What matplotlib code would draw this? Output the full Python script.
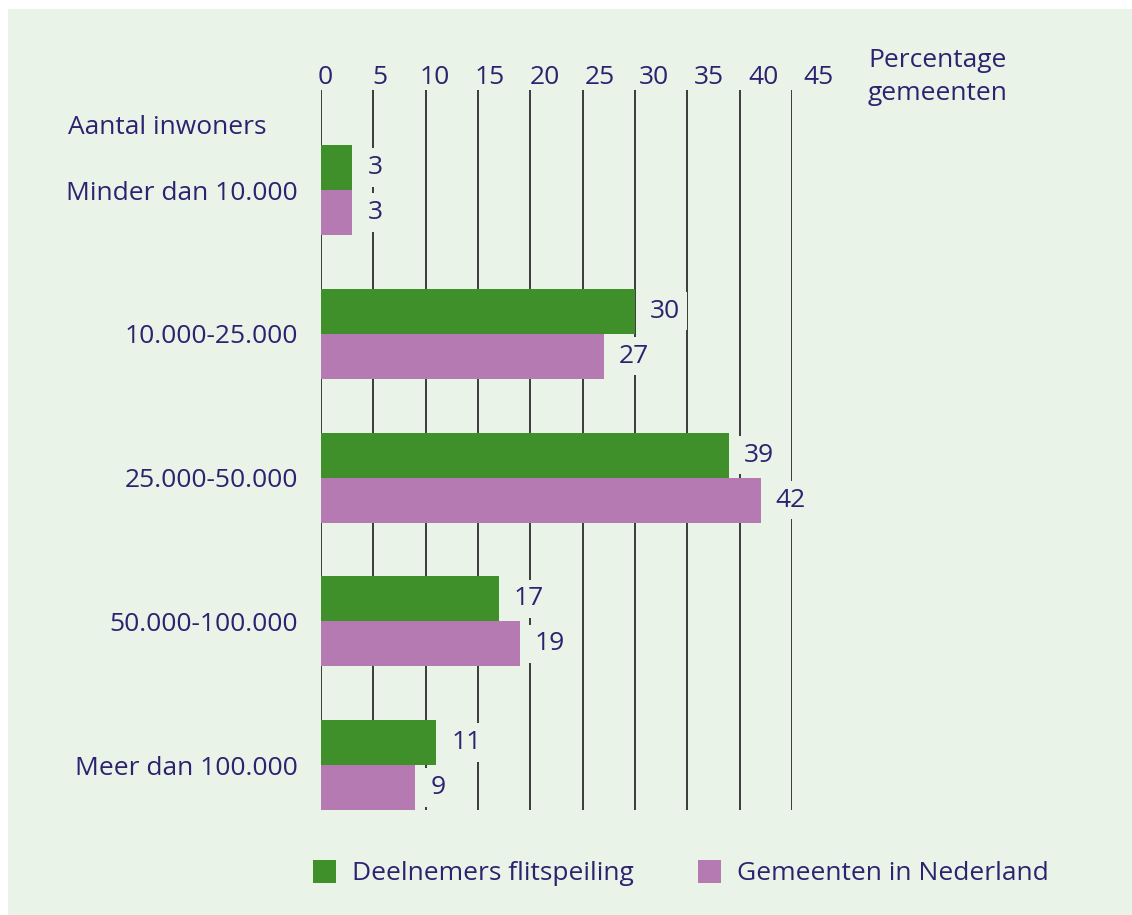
import matplotlib
matplotlib.use("Agg")
import matplotlib.pyplot as plt
from matplotlib.patches import Rectangle
import matplotlib.transforms as mtransforms
import numpy as np

categories = ["Minder dan 10.000", "10.000-25.000", "25.000-50.000", "50.000-100.000", "Meer dan 100.000"]
deelnemers = [3, 30, 39, 17, 11]
gemeenten = [3, 27, 42, 19, 9]
xticks = [0, 5, 10, 15, 20, 25, 30, 35, 40, 45]
series_names = ["Deelnemers flitspeiling", "Gemeenten in Nederland"]

BG = "#EAF3E7"
GREEN = "#3F8F2B"
PINK = "#B57AB2"
TEXT = "#2D2270"
GRID = "#3A3A3A"
FONT = "Open Sans"
FS = 19

W, H = 1132, 915
fig = plt.figure(figsize=(W / 100, H / 100), dpi=100, facecolor="white")
bgrect = Rectangle((8 / W, 0), 1 - 8 / W, 1 - 9 / H, transform=fig.transFigure,
                   facecolor=BG, edgecolor="none", zorder=-10)
fig.patches.append(bgrect)

ax = fig.add_axes([321 / W, 1 - 810 / H, 471 / W, 720 / H])
ax.set_zorder(1)
ax.set_facecolor("none")
ax.set_xlim(0, 45)
n = len(categories)
bh = 0.313
ax.set_ylim(n - 1 + bh, -0.696)

y = np.arange(n)
ax.barh(y - bh / 2, deelnemers, height=bh, color=GREEN, zorder=3)
ax.barh(y + bh / 2, gemeenten, height=bh, color=PINK, zorder=3)

for xv in xticks:
    ax.axvline(xv, color=GRID, lw=1.4, zorder=1)

for spine in ax.spines.values():
    spine.set_visible(False)

ax.set_xticks([])
ax.set_yticks(y)
ax.set_yticklabels(categories, fontsize=FS, color=TEXT, family=FONT)
ax.tick_params(axis="y", length=0, pad=16.5)

px = 45 / 471.0
# top scale labels (slightly wider spaced than the gridlines, as in the original)
trans = mtransforms.blended_transform_factory(ax.transData, ax.transAxes)
for v in xticks:
    ax.text(v * 1.047 + 4.5 * px, 1 + 12 / 720, str(v), transform=trans, ha="center",
            va="center", fontsize=FS, color=TEXT, family=FONT, clip_on=False)

for i in range(n):
    for val, yy in ((deelnemers[i], y[i] - bh / 2), (gemeenten[i], y[i] + bh / 2)):
        ax.text(val + 15 * px, yy, str(val), ha="left", va="center", fontsize=FS,
                color=TEXT, family=FONT, zorder=4,
                bbox=dict(boxstyle="square,pad=0.25", fc=BG, ec="none"))

fig.text(68 / W, 1 - 127 / H, "Aantal inwoners", ha="left", va="center",
         fontsize=FS, color=TEXT, family=FONT)
fig.text(868 / W, 1 - 77 / H, "Percentage\ngemeenten", ha="left", va="center",
         fontsize=FS, color=TEXT, family=FONT, linespacing=1.45)

# legend
for (x0, col, name) in ((313, GREEN, series_names[0]), (698, PINK, series_names[1])):
    fig.patches.append(Rectangle((x0 / W, 1 - 883 / H), 23 / W, 23 / H, transform=fig.transFigure,
                                 facecolor=col, edgecolor="none", zorder=2))
    fig.text((x0 + 39) / W, 1 - 873 / H, name, ha="left", va="center",
             fontsize=FS, color=TEXT, family=FONT)

fig.savefig("out.png", dpi=100, facecolor="white")
